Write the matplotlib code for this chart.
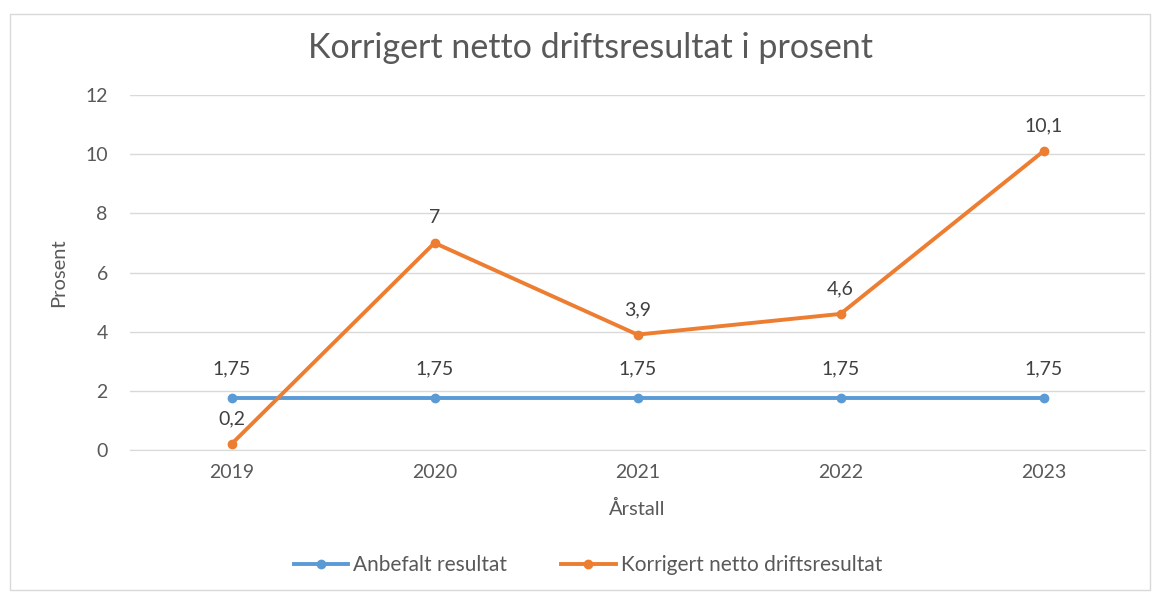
import matplotlib.pyplot as plt
from matplotlib.patches import Rectangle

years = ["2019", "2020", "2021", "2022", "2023"]
anbefalt = [1.75, 1.75, 1.75, 1.75, 1.75]
korrigert = [0.2, 7, 3.9, 4.6, 10.1]
y_ticks = [0, 2, 4, 6, 8, 10, 12]

blue = "#5B9BD5"
orange = "#ED7D31"
text_col = "#595959"

plt.rcParams["font.family"] = ["Lato", "DejaVu Sans"]

fig = plt.figure(figsize=(11.65, 5.93), dpi=100)
ax = fig.add_axes([130 / 1165, 1 - 450 / 593, 1015 / 1165, 355 / 593])

x = list(range(len(years)))
ax.plot(x, anbefalt, color=blue, lw=2.8, marker="o", ms=6, label="Anbefalt resultat", zorder=3)
ax.plot(x, korrigert, color=orange, lw=2.8, marker="o", ms=6, label="Korrigert netto driftsresultat", zorder=4)


def fmt(v):
    s = f"{v:g}"
    return s.replace(".", ",")


for xi, v in zip(x, anbefalt):
    ax.annotate(fmt(v), (xi, v), xytext=(0, 15), textcoords="offset points",
                ha="center", va="bottom", fontsize=14, color="#404040")
for xi, v in zip(x, korrigert):
    ax.annotate(fmt(v), (xi, v), xytext=(0, 12), textcoords="offset points",
                ha="center", va="bottom", fontsize=14, color="#404040")

ax.set_xlim(-0.5, len(years) - 0.5)
ax.set_ylim(0, 12)
ax.set_yticks(y_ticks)
ax.set_xticks(x)
ax.set_xticklabels(years)
ax.tick_params(length=0, labelsize=14, colors=text_col, pad=10)
ax.tick_params(axis="y", pad=16)
ax.grid(axis="y", color="#D9D9D9", lw=1)
ax.set_axisbelow(True)
for s in ["top", "right", "left"]:
    ax.spines[s].set_visible(False)
ax.spines["bottom"].set_color("#D9D9D9")

ax.set_ylabel("Prosent", fontsize=14.5, color=text_col, labelpad=13)
ax.set_xlabel("Årstall", fontsize=14.5, color=text_col, labelpad=14)

fig.text(590 / 1165, 1 - 48 / 593, "Korrigert netto driftsresultat i prosent",
         ha="center", va="center", fontsize=24.5, color=text_col)

fig.legend(loc="center", bbox_to_anchor=(588 / 1165, 1 - 565 / 593), ncol=2,
           frameon=False, fontsize=15, handlelength=2.6, columnspacing=2.6,
           handletextpad=0.25, labelcolor=text_col)

fig.patches.append(Rectangle((10 / 1165, 3 / 593), 1140 / 1165, 576 / 593,
                             transform=fig.transFigure, fill=False,
                             edgecolor="#D9D9D9", lw=1))

fig.savefig("out.png", dpi=100)
